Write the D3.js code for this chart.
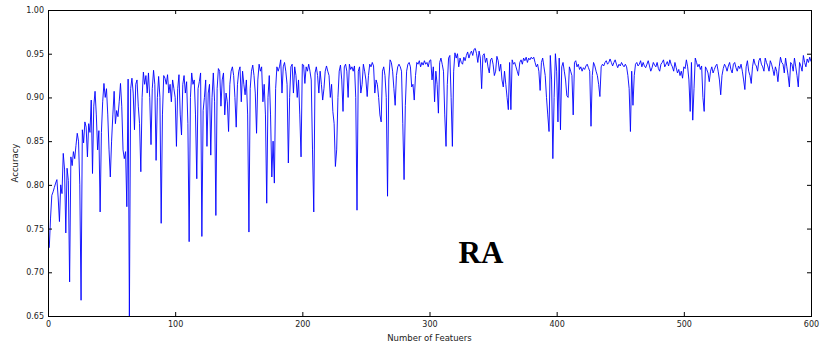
<!DOCTYPE html>
<html>
<head>
<meta charset="utf-8">
<script src="https://cdn.jsdelivr.net/npm/d3@7"></script>
<style>
  body { margin: 0; background: #fff; }
  .tick text { font-family: "DejaVu Sans", sans-serif; font-size: 8px; fill: #222; }
  .tick line { stroke: #000; }
  .label { font-family: "DejaVu Sans", sans-serif; font-size: 8.5px; fill: #222; }
  .line { fill: none; stroke: #0000ff; stroke-width: 0.9; }
</style>
</head>
<body>
<div id="chart"></div>
<script>
// accuracy per number of features (features 1..600)
var accuracy = [
  0.728,0.762,0.788,0.792,0.797,0.802,0.806,0.785,0.758,0.800,0.790,0.836,0.818,0.745,0.819,0.805,0.689,0.832,0.822,0.838,
  0.830,0.845,0.859,0.850,0.800,0.668,0.863,0.848,0.872,0.866,0.832,0.870,0.860,0.897,0.813,0.890,0.907,0.880,0.840,0.862,
  0.769,0.860,0.895,0.916,0.900,0.910,0.880,0.840,0.809,0.850,0.880,0.907,0.870,0.885,0.878,0.895,0.916,0.890,0.840,0.830,
  0.838,0.775,0.921,0.650,0.910,0.922,0.905,0.863,0.915,0.920,0.890,0.870,0.815,0.900,0.929,0.915,0.925,0.905,0.928,0.900,
  0.846,0.910,0.931,0.915,0.828,0.900,0.924,0.900,0.756,0.880,0.925,0.922,0.915,0.926,0.905,0.915,0.895,0.920,0.910,0.900,
  0.844,0.910,0.926,0.880,0.857,0.915,0.925,0.905,0.918,0.870,0.735,0.900,0.928,0.915,0.920,0.880,0.807,0.910,0.918,0.928,
  0.741,0.885,0.900,0.920,0.844,0.905,0.915,0.834,0.900,0.928,0.895,0.765,0.910,0.933,0.930,0.890,0.920,0.928,0.880,0.905,
  0.895,0.861,0.915,0.930,0.935,0.925,0.900,0.866,0.915,0.930,0.935,0.895,0.930,0.915,0.903,0.920,0.880,0.746,0.910,0.930,
  0.937,0.925,0.905,0.859,0.920,0.938,0.930,0.935,0.895,0.915,0.880,0.779,0.900,0.925,0.880,0.809,0.850,0.802,0.910,0.935,
  0.930,0.935,0.943,0.905,0.935,0.940,0.930,0.915,0.825,0.900,0.935,0.938,0.905,0.935,0.925,0.900,0.920,0.880,0.832,0.938,
  0.937,0.916,0.935,0.930,0.938,0.930,0.920,0.840,0.769,0.928,0.935,0.925,0.905,0.930,0.915,0.897,0.910,0.930,0.936,0.930,
  0.925,0.900,0.915,0.884,0.870,0.821,0.840,0.900,0.930,0.937,0.920,0.884,0.935,0.938,0.930,0.900,0.938,0.932,0.935,0.930,
  0.936,0.900,0.771,0.930,0.935,0.905,0.915,0.938,0.930,0.920,0.901,0.925,0.938,0.935,0.940,0.936,0.905,0.920,0.915,0.900,
  0.880,0.872,0.930,0.935,0.925,0.900,0.787,0.920,0.943,0.940,0.930,0.910,0.891,0.925,0.935,0.938,0.935,0.930,0.870,0.806,
  0.891,0.930,0.938,0.940,0.935,0.912,0.915,0.897,0.925,0.940,0.938,0.942,0.935,0.940,0.937,0.942,0.938,0.940,0.935,0.942,
  0.943,0.920,0.935,0.895,0.930,0.915,0.882,0.940,0.945,0.938,0.930,0.880,0.844,0.915,0.945,0.948,0.900,0.844,0.930,0.951,
  0.945,0.950,0.935,0.945,0.940,0.938,0.946,0.942,0.948,0.952,0.945,0.950,0.953,0.948,0.955,0.956,0.950,0.940,0.953,0.945,
  0.910,0.948,0.950,0.940,0.945,0.935,0.928,0.943,0.945,0.938,0.925,0.930,0.947,0.942,0.930,0.938,0.920,0.912,0.930,0.915,
  0.900,0.886,0.940,0.886,0.943,0.938,0.940,0.935,0.930,0.925,0.940,0.943,0.938,0.945,0.942,0.946,0.940,0.945,0.943,0.946,
  0.944,0.946,0.940,0.935,0.938,0.930,0.908,0.940,0.945,0.935,0.925,0.900,0.880,0.861,0.948,0.920,0.830,0.900,0.950,0.930,
  0.872,0.945,0.863,0.935,0.940,0.930,0.920,0.902,0.900,0.935,0.930,0.925,0.880,0.940,0.942,0.935,0.938,0.932,0.935,0.930,
  0.934,0.932,0.936,0.938,0.934,0.930,0.867,0.925,0.940,0.936,0.930,0.925,0.915,0.901,0.935,0.938,0.936,0.940,0.942,0.938,
  0.940,0.944,0.940,0.936,0.940,0.943,0.938,0.934,0.938,0.936,0.940,0.937,0.935,0.938,0.935,0.925,0.910,0.861,0.930,0.891,
  0.925,0.938,0.940,0.936,0.938,0.942,0.935,0.940,0.936,0.934,0.938,0.942,0.936,0.930,0.934,0.940,0.937,0.935,0.940,0.933,
  0.930,0.938,0.940,0.943,0.935,0.938,0.941,0.936,0.943,0.938,0.935,0.930,0.940,0.934,0.928,0.932,0.925,0.930,0.922,0.935,
  0.933,0.943,0.935,0.920,0.884,0.940,0.874,0.910,0.945,0.940,0.935,0.938,0.932,0.936,0.900,0.884,0.935,0.932,0.928,0.918,
  0.930,0.935,0.928,0.932,0.936,0.938,0.930,0.920,0.903,0.925,0.933,0.938,0.935,0.930,0.936,0.940,0.932,0.928,0.938,0.940,
  0.934,0.930,0.936,0.933,0.938,0.930,0.920,0.909,0.935,0.942,0.930,0.925,0.916,0.935,0.944,0.938,0.936,0.930,0.942,0.945,
  0.938,0.935,0.930,0.945,0.940,0.936,0.930,0.942,0.938,0.932,0.925,0.935,0.930,0.918,0.935,0.946,0.940,0.938,0.928,0.945,
  0.935,0.925,0.912,0.940,0.938,0.930,0.945,0.935,0.925,0.912,0.940,0.936,0.930,0.948,0.940,0.935,0.944,0.940,0.946,0.941
];

var xTicks = [0, 100, 200, 300, 400, 500, 600];
var yTicks = [0.65, 0.70, 0.75, 0.80, 0.85, 0.90, 0.95, 1.00];

// layout
var width = 822,
    height = 347,
    margin = { top: 10, right: 11, bottom: 31, left: 48 };

var w = width - margin.left - margin.right,
    h = height - margin.top - margin.bottom;

var x = d3.scaleLinear().domain([0, 600]).range([0, w]),
    y = d3.scaleLinear().domain([0.65, 1.00]).range([h, 0]);

var line = d3.line()
    .x(function(d, i) { return x(i + 1); })
    .y(function(d) { return y(d); });

var svg = d3.select("#chart")
  .append("svg")
  .attr("width", width)
  .attr("height", height);

var chart = svg.append("g")
  .attr("transform", "translate(" + margin.left + "," + margin.top + ")");

chart.append("clipPath")
  .attr("id", "clip")
  .append("rect")
  .attr("width", w)
  .attr("height", h);

chart.append("path")
  .datum(accuracy)
  .attr("class", "line")
  .attr("clip-path", "url(#clip)")
  .attr("d", line);

// axes, ticks pointing inwards like matplotlib classic
chart.append("g")
  .attr("transform", "translate(0," + h + ")")
  .call(d3.axisBottom(x).tickValues(xTicks).tickSize(-4).tickPadding(5).tickFormat(d3.format("d")))
  .call(function(g) { g.select(".domain").remove(); });

chart.append("g")
  .call(d3.axisTop(x).tickValues(xTicks).tickSize(-4).tickFormat(""))
  .call(function(g) { g.select(".domain").remove(); });

chart.append("g")
  .call(d3.axisLeft(y).tickValues(yTicks).tickSize(-4).tickPadding(4).tickFormat(d3.format(".2f")))
  .call(function(g) { g.select(".domain").remove(); });

chart.append("g")
  .attr("transform", "translate(" + w + ",0)")
  .call(d3.axisRight(y).tickValues(yTicks).tickSize(-4).tickFormat(""))
  .call(function(g) { g.select(".domain").remove(); });

chart.append("rect")
  .attr("x", 0.5)
  .attr("y", 0.5)
  .attr("width", w)
  .attr("height", h)
  .attr("fill", "none")
  .attr("stroke", "#000");

// labels
svg.append("text")
  .attr("class", "label")
  .attr("text-anchor", "middle")
  .attr("transform", "translate(" + (margin.left + w / 2) + "," + (height - 6) + ")")
  .text("Number of Featuers");

svg.append("text")
  .attr("class", "label")
  .attr("text-anchor", "middle")
  .attr("transform", "translate(18," + (margin.top + h / 2) + ") rotate(-90)")
  .text("Accuracy");

svg.append("text")
  .attr("text-anchor", "middle")
  .attr("x", 481)
  .attr("y", 263)
  .style("font-family", "'Liberation Serif', serif")
  .style("font-weight", "bold")
  .style("font-size", "31px")
  .text("RA");
</script>
</body>
</html>
